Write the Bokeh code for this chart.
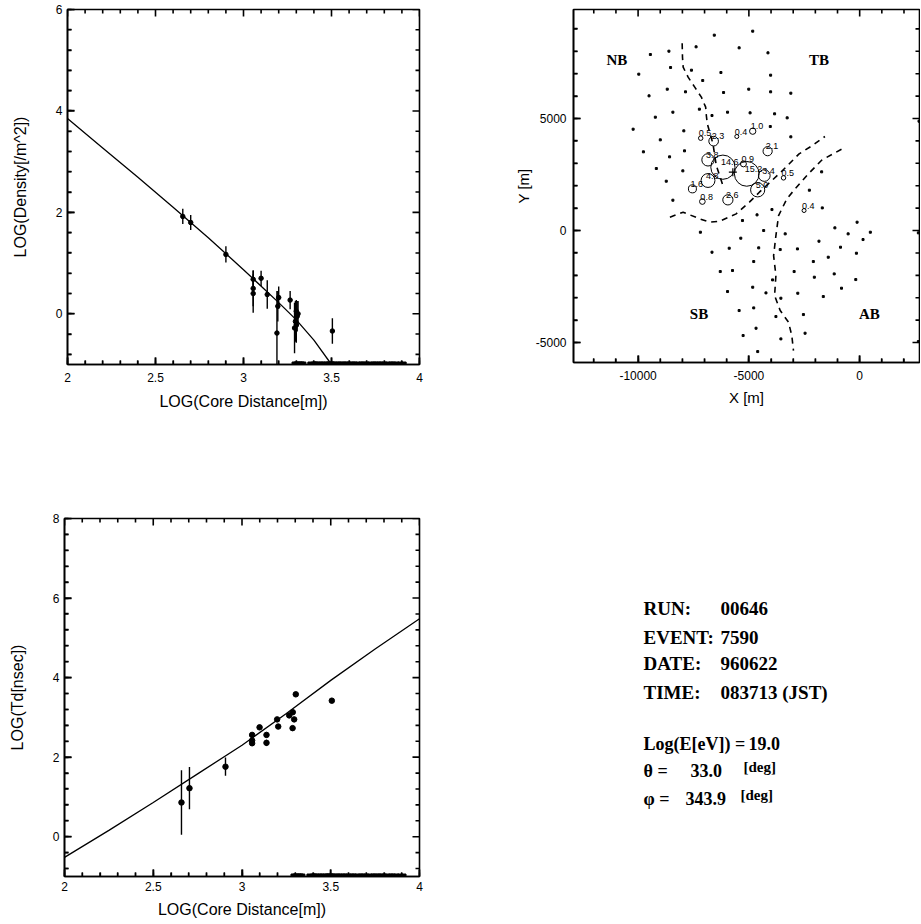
import numpy as np
from bokeh.plotting import figure
from bokeh.models import (Range1d, SingleIntervalTicker, Label,
                          ColumnDataSource, CustomJSTickFormatter)
from bokeh.layouts import row, column
from bokeh.embed import file_html
from bokeh.resources import INLINE
from bokeh.core.properties import value

# ---------------- data ----------------
# lateral density fit
fit1_x = [2.0, 2.2, 2.4, 2.6, 2.8, 3.0, 3.2, 3.3, 3.4, 3.5]
fit1_y = [3.85, 3.27, 2.69, 2.10, 1.50, 0.87, 0.22, -0.12, -0.52, -1.0]
dens_x = [2.655, 2.70, 2.90, 3.055, 3.055, 3.055, 3.10, 3.135, 3.19, 3.195,
          3.20, 3.265, 3.29, 3.295, 3.30, 3.30, 3.305, 3.31, 3.505]
dens_y = [1.92, 1.80, 1.17, 0.68, 0.50, 0.40, 0.70, 0.38, -0.38, 0.15,
          0.32, 0.27, -0.28, -0.15, -0.22, 0.05, -0.05, 0.00, -0.34]
dens_err = [0.15, 0.15, 0.16, 0.18, 0.35, 0.38, 0.15, 0.28, 0.83, 0.30,
            0.22, 0.18, 0.50, 0.40, 0.35, 0.22, 0.30, 0.25, 0.25]
# detectors without signal (drawn on the lower edge)
zero_x = [3.29, 3.30, 3.31, 3.32, 3.33, 3.34, 3.38, 3.40, 3.41, 3.42, 3.44,
          3.45, 3.47, 3.48, 3.49, 3.50, 3.51, 3.52, 3.54, 3.55, 3.57, 3.58,
          3.60, 3.62, 3.63, 3.65, 3.67, 3.68, 3.70, 3.72, 3.74, 3.75, 3.77,
          3.78, 3.80, 3.82, 3.84, 3.85, 3.87, 3.89, 3.91]
zero_level = -1.0

# time delay fit
fit3_x = [2.0, 2.25, 2.5, 2.75, 3.0, 3.25, 3.5, 3.75, 4.0]
fit3_y = [-0.52, 0.16, 0.86, 1.58, 2.30, 3.10, 3.93, 4.72, 5.48]
td_x = [2.659, 2.704, 2.907, 3.057, 3.057, 3.057, 3.099, 3.138, 3.138, 3.198,
        3.204, 3.266, 3.286, 3.294, 3.285, 3.303, 3.506]
td_y = [0.86, 1.22, 1.76, 2.56, 2.42, 2.35, 2.75, 2.56, 2.36, 2.95,
        2.77, 3.05, 3.13, 2.95, 2.73, 3.58, 3.42]
td_err = [0.81, 0.53, 0.23, 0.06, 0.06, 0.06, 0.06, 0.06, 0.08, 0.06,
          0.06, 0.06, 0.06, 0.06, 0.06, 0.06, 0.06]

# array map: detector positions [m]
det_x = [-6561, -9446, -8609, -7383, -5440, -8534, -7592, -6262, -9969, -7084,
         -8684, -7861, -6142, -9506, -8430, -7234, -6665, -5963, -9222, -10224,
         -7936, -8998, -9760, -8579, -7906, -9177, -7981, -8729,
         -4827, -4139, -4019, -5006, -4019, -3107, -4946, -3840, -3272, -4034,
         -3107, 2678, -1717,
         -8430, -7189, -5365, -5888, -6665, -6292, -5739, -5963, -5440, -5260, -5290,
         -2270, -4632, -3959, -1687, -4333, -3361, -1119, -117, -521, 481,
         152, 2648, -4557, -3586, -2808, -1837, -865, -147, -4782, -2091,
         -1418, -2958, -2046, -1149, -177, -4827, -4229, -2793, -1642, -820,
         -3930, -3556, -4782, -3780, -2539, -4677, -3556, -2464, -4602, 2648]
det_y = [8720, 7856, 8005, 8199, 8154, 7276, 7157, 7053, 6979, 6696,
         6309, 6190, 6160, 6011, 5282, 5416, 5133, 5282, 5059, 4523,
         4449, 4047, 3512, 3288, 3556, 2768, 2663, 2202,
         8898, 7931, 6934, 6309, 6190, 6130, 5252, 5208, 5029, 4642,
         4181, 4880, 2619,
         1354, -75, -342, -789, -967, -1830, -1785, -2723, -3571, -4687, 446,
         1800, 699, 937, 1011, 0, -149, 119, 372, -149, -75,
         -402, -104, -774, -849, -819, -476, -744, -1012, -1384, -1384,
         -1191, -1830, -2083, -1935, -2188, -2530, -2783, -2798, -2946, -2574,
         -2203, -3021, -3452, -3839, -3750, -4360, -4836, -4583, -5402, -4955]
# hit detectors and their signals
hit_x = [-7174, -6591, -5545, -4827, -4154, -5096, -6173, -6845, -5246,
         -4304, -4603, -3437, -6845, -7548, -7099, -5948, -2510]
hit_y = [4122, 3988, 4196, 4434, 3541, 2529, 2827, 3154, 2976,
         2455, 1815, 2351, 2232, 1860, 1294, 1369, 893]
hit_val = [0.5, 2.3, 0.4, 1.0, 2.1, 15.2, 14.6, 3.8, 0.9,
           3.4, 5.0, 0.5, 4.8, 1.6, 0.8, 2.6, 0.4]
core_x = [-5724]
core_y = [2604]
# branch boundaries
bound_a_x = [-8011, -7996, -7966, -7742, -7443, -7144, -6950, -6920, -6875, -6621, -6471, -6172]
bound_a_y = [8362, 7737, 7291, 6845, 6398, 5952, 5505, 5133, 4761, 3869, 2901, 2009]
bound_b_x = [-8564, -7966, -7219, -6770, -6322, -5574, -4976, -4527, -3481, -2734, -2136, -1568]
bound_b_y = [595, 818, 521, 372, 417, 744, 1265, 1711, 2678, 3422, 3794, 4196]
bound_c_x = [-820, -1717, -2315, -2913, -3286, -3660, -3780, -3884, -3780, -3840, -3586, -3212, -3063, -2988]
bound_c_y = [3631, 3139, 2529, 1860, 1413, 669, -224, -1116, -2009, -2902, -3571, -4092, -4687, -5357]
region_lbl = ["NB", "TB", "SB", "AB"]
region_x = [-10956, -1837, -7249, 436]
region_y = [7618, 7618, -3720, -3720]

# event information
info_keys = ["RUN:", "EVENT:", "DATE:", "TIME:"]
info_vals = ["00646", "7590", "960622", "083713 (JST)"]
log_energy = 19.0
theta_deg = 33.0
phi_deg = 343.9

# ---------------- helpers ----------------
SANS = "Liberation Sans"
SERIF = "Liberation Serif"
FMT = "return String(Math.round(tick*1000)/1000);"


def base_fig(fw, fh, xr, yr, bl, br, bt, bb):
    p = figure(frame_width=fw, frame_height=fh,
               x_range=Range1d(*xr), y_range=Range1d(*yr),
               min_border_left=bl, min_border_right=br,
               min_border_top=bt, min_border_bottom=bb,
               output_backend="svg", toolbar_location=None,
               background_fill_color=None, border_fill_color=None)
    p.grid.visible = False
    p.outline_line_color = "black"
    p.outline_line_width = 1.6
    return p


def dress(p, xint, yint, xlabel, ylabel, xstand, ystand, tick_fs="12px", lab_fs="16px",
          xl_stand=8, yl_stand=5):
    for ax, intv, lab, st, lst in ((p.xaxis[0], xint, xlabel, xstand, xl_stand),
                                   (p.yaxis[0], yint, ylabel, ystand, yl_stand)):
        ax.ticker = SingleIntervalTicker(interval=intv, num_minor_ticks=5)
        ax.formatter = CustomJSTickFormatter(code=FMT)
        ax.major_tick_in = 7
        ax.major_tick_out = 0
        ax.minor_tick_in = 4
        ax.minor_tick_out = 0
        ax.major_tick_line_width = 1.6
        ax.minor_tick_line_width = 1.3
        ax.axis_line_color = "black"
        ax.axis_line_width = 1.6
        ax.axis_label = lab
        ax.axis_label_standoff = st
        ax.axis_label_text_font = SANS
        ax.axis_label_text_font_style = "normal"
        ax.axis_label_text_font_size = lab_fs
        ax.axis_label_text_color = "black"
        ax.major_label_text_font = SANS
        ax.major_label_text_font_size = tick_fs
        ax.major_label_text_color = "black"
        ax.major_label_standoff = lst


def frame_ticks(p, xr, yr, xmaj, xmin, ymaj, ymin, lmaj=7, lmin=4, lw=1.6):
    """inward tick marks on the four frame edges: thin bars centred on each edge,
    the outer half being clipped by the frame"""
    def ticks(r, step):
        k0 = int(np.ceil(r[0] / step - 1e-9))
        k1 = int(np.floor(r[1] / step + 1e-9))
        return (np.arange(k0, k1 + 1) * step).astype(float)

    xt = ticks(xr, xmin)
    yt = ticks(yr, ymin)
    xs = np.where(np.isclose(np.round(xt / xmaj) * xmaj, xt), 2 * lmaj, 2 * lmin).astype(float)
    ys = np.where(np.isclose(np.round(yt / ymaj) * ymaj, yt), 2 * lmaj, 2 * lmin).astype(float)
    sx = ColumnDataSource(dict(x=np.concatenate([xt, xt]),
                               y=np.concatenate([np.full(len(xt), float(yr[0])),
                                                 np.full(len(xt), float(yr[1]))]),
                               s=np.concatenate([xs, xs])))
    sy = ColumnDataSource(dict(x=np.concatenate([np.full(len(yt), float(xr[0])),
                                                 np.full(len(yt), float(xr[1]))]),
                               y=np.concatenate([yt, yt]),
                               s=np.concatenate([ys, ys])))
    p.rect("x", "y", width=lw, height="s", width_units="screen", height_units="screen",
           source=sx, fill_color="black", line_color=None)
    p.rect("x", "y", width="s", height=lw, width_units="screen", height_units="screen",
           source=sy, fill_color="black", line_color=None)


# ---------------- density plot ----------------
X1, Y1 = (2, 4), (-1, 6)
p1 = base_fig(352, 355, X1, Y1, 67, 72, 9, 50)
dress(p1, 0.5, 2, "LOG(Core Distance[m])", "LOG(Density[/m^2])", 8, 24)
frame_ticks(p1, X1, Y1, 0.5, 0.1, 2, 0.4)
p1.line(fit1_x, fit1_y, line_color="black", line_width=1.3)
dx = np.array(dens_x); dy = np.array(dens_y); de = np.array(dens_err)
src1 = ColumnDataSource(dict(x=dx, y=dy, lo=dy - de, hi=dy + de))
p1.segment(x0="x", y0="lo", x1="x", y1="hi", source=src1, line_color="black", line_width=1.4)
p1.scatter("x", "y", source=src1, size=4.5, color="black")
p1.scatter(zero_x, [zero_level] * len(zero_x), size=5, color="black", marker="square")

# ---------------- array map ----------------
X2, Y2 = (-12915, 2700), (-5890, 9865)
p2 = base_fig(346, 353, X2, Y2, 82, 1, 9, 52)
dress(p2, 5000, 5000, "X [m]", "Y [m]", 6, 1, tick_fs="12px", lab_fs="15px",
      xl_stand=8, yl_stand=7)
frame_ticks(p2, X2, Y2, 5000, 1000, 5000, 1000)
p2.scatter(det_x, det_y, size=2, color="black", marker="square")
for bx, by in ((bound_a_x, bound_a_y), (bound_b_x, bound_b_y), (bound_c_x, bound_c_y)):
    p2.line(bx, by, line_color="black", line_width=1.6, line_dash="6 5")
hv = np.array(hit_val)
src2 = ColumnDataSource(dict(x=hit_x, y=hit_y, r=143 * np.sqrt(hv),
                             t=["%.1f" % v for v in hit_val]))
p2.circle("x", "y", radius="r", source=src2, fill_color=None, line_color="black", line_width=1)
p2.text("x", "y", text="t", source=src2, x_offset=-2, y_offset=-2, text_baseline="bottom",
        text_font=value(SANS), text_font_size="9px", text_color="black")
p2.scatter(core_x, core_y, marker="cross", size=8, line_color="black", line_width=1.2)
p2.text(region_x, region_y, text=region_lbl, text_align="center", text_baseline="middle",
        text_font=value(SERIF), text_font_style="bold", text_font_size="15px", text_color="black")

# ---------------- time delay plot ----------------
X3, Y3 = (2, 4), (-1, 8)
p3 = base_fig(355, 358, X3, Y3, 64, 72, 104, 44)
dress(p3, 0.5, 2, "LOG(Core Distance[m])", "LOG(Td[nsec])", 7, 24, xl_stand=5)
frame_ticks(p3, X3, Y3, 0.5, 0.1, 2, 0.4)
p3.line(fit3_x, fit3_y, line_color="black", line_width=1.3)
tx = np.array(td_x); ty = np.array(td_y); te = np.array(td_err)
src3 = ColumnDataSource(dict(x=tx, y=ty, lo=ty - te, hi=ty + te))
p3.segment(x0="x", y0="lo", x1="x", y1="hi", source=src3, line_color="black", line_width=1.4)
p3.scatter("x", "y", source=src3, size=5.5, color="black")
p3.scatter(zero_x, [zero_level] * len(zero_x), size=5, color="black", marker="square")

# ---------------- event text panel ----------------
pt = figure(frame_width=420, frame_height=358, x_range=Range1d(0, 1), y_range=Range1d(0, 1),
            min_border_left=0, min_border_right=0, min_border_top=104, min_border_bottom=44,
            x_axis_type=None, y_axis_type=None,
            output_backend="svg", toolbar_location=None,
            background_fill_color=None, border_fill_color=None)
pt.grid.visible = False
pt.outline_line_color = None


def txt(s, sx, sy, fs="18px"):
    pt.add_layout(Label(x=sx, y=sy, x_units="screen", y_units="screen", text=s,
                        text_font=SERIF, text_font_style="bold", text_font_size=fs,
                        text_color="black", text_baseline="alphabetic"))


row_y = [268, 239, 213, 184]
for k, v, yy in zip(info_keys, info_vals, row_y):
    txt(k, 152, yy, fs="19px")
    txt(v, 229, yy, fs="19px")
txt("Log(E[eV]) =", 152, 133)
txt("%.1f" % log_energy, 257, 133)
txt("\u03b8 =", 152, 106)
txt("%.1f" % theta_deg, 199, 106)
txt("[deg]", 252, 110, fs="15px")
txt("\u03c6 =", 152, 78)
txt("%.1f" % phi_deg, 194, 78)
txt("[deg]", 249, 82, fs="15px")

layout = column(row(p1, p2), row(p3, pt))
open("out.html", "w").write(file_html(layout, INLINE))
